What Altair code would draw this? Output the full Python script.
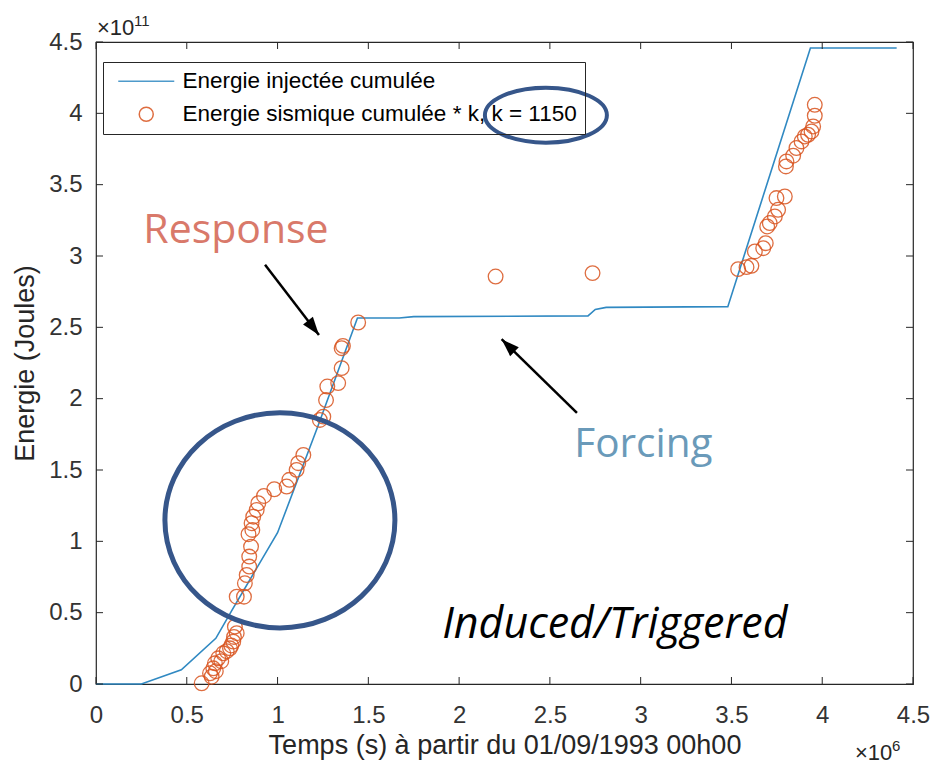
import altair as alt
import pandas as pd

# Units: time in 1e6 s, energy in 1e11 J
SERIES_INJ = "Energie injectée cumulée"
SERIES_SEIS = "Energie sismique cumulée * k, k = 1150"

# Cumulative injected energy
inj_t = [0.0, 0.25, 0.47, 0.66, 0.75, 1.00, 1.22, 1.44, 1.67, 1.75, 2.71, 2.75,
         2.81, 3.48, 3.935, 4.41]
inj_e = [0.0, 0.0, 0.10, 0.32, 0.52, 1.06, 1.80, 2.565, 2.565, 2.575, 2.58, 2.625,
         2.64, 2.645, 4.458, 4.458]

# Cumulative seismic energy multiplied by k
seis_t = [0.582, 0.628, 0.637, 0.646, 0.655, 0.66, 0.673, 0.69, 0.701, 0.72, 0.738,
          0.745, 0.756, 0.76, 0.775, 0.765, 0.775, 0.815, 0.820, 0.830, 0.844,
          0.844, 0.854, 0.84, 0.861, 0.857, 0.866, 0.885, 0.894, 0.925, 0.982,
          1.050, 1.065, 1.105, 1.114, 1.142, 1.233, 1.252, 1.267, 1.274, 1.334,
          1.353, 1.353, 1.36, 1.444,
          2.201, 2.735,
          3.537, 3.583, 3.610, 3.629, 3.675, 3.689, 3.697, 3.711, 3.739, 3.757,
          3.748, 3.794, 3.800, 3.803, 3.840, 3.858, 3.886, 3.904, 3.922, 3.941,
          3.950, 3.959, 3.959]
seis_e = [0.005, 0.075, 0.051, 0.110, 0.145, 0.09, 0.180, 0.16, 0.215, 0.23, 0.250,
          0.27, 0.297, 0.33, 0.356, 0.402, 0.612, 0.612, 0.706, 0.764, 0.823,
          0.893, 0.963, 1.05, 1.080, 1.127, 1.173, 1.220, 1.267, 1.318, 1.365,
          1.384, 1.431, 1.501, 1.548, 1.606, 1.851, 1.874, 1.990, 2.085, 2.109,
          2.214, 2.354, 2.37, 2.534,
          2.856, 2.880,
          2.908, 2.922, 2.931, 3.032, 3.055, 3.090, 3.207, 3.231, 3.277, 3.324,
          3.406, 3.417, 3.628, 3.663, 3.703, 3.757, 3.803, 3.838, 3.850, 3.873,
          3.908, 3.983, 4.060]

tick_vals = [0, 0.5, 1, 1.5, 2, 2.5, 3, 3.5, 4, 4.5]

# Annotations
note_t = [0.771, 3.015, 2.858]
note_e = [3.093, 1.592, 0.323]
note_txt = ["Response", "Forcing", "Induced/Triggered"]

arrow_t = [0.931, 2.649]
arrow_e = [2.938, 1.900]
arrow_t2 = [1.228, 2.234]
arrow_e2 = [2.447, 2.417]
arrow_ang = [142.4, 314.3]

ring_t = [1.013, 2.478]
ring_e = [1.147, 3.987]

W, H = 817, 642
LINE_COLOR = "#3089C2"
DOT_COLOR = "#D9541F"
RING_COLOR = "#36568A"
FONT = "Liberation Sans"

inj = pd.DataFrame({"t": inj_t, "e": inj_e, "serie": SERIES_INJ})
seis = pd.DataFrame({"t": seis_t, "e": seis_e, "serie": SERIES_SEIS})
ticks = pd.DataFrame({"v": tick_vals})
notes = pd.DataFrame({"t": note_t, "e": note_e, "txt": note_txt})
arrows = pd.DataFrame({"t": arrow_t, "e": arrow_e, "t2": arrow_t2, "e2": arrow_e2,
                       "ang": arrow_ang})
rings = pd.DataFrame({"t": ring_t, "e": ring_e})

xscale = alt.Scale(domain=[0, 4.5], nice=False, zero=False)
yscale = alt.Scale(domain=[0, 4.5], nice=False, zero=False)
xaxis = alt.Axis(values=tick_vals, format=".1~f", ticks=False, domain=False, grid=False,
                 labelFlush=False, labelPadding=19, titlePadding=5)
yaxis = alt.Axis(values=tick_vals, format=".1~f", ticks=False, domain=False, grid=False,
                 labelFlush=False, labelPadding=14, titlePadding=9)
XT = "Temps (s) à partir du 01/09/1993 00h00"
YT = "Energie (Joules)"


def X(field):
    return alt.X(f"{field}:Q", scale=xscale, axis=xaxis, title=XT)


def Y(field):
    return alt.Y(f"{field}:Q", scale=yscale, axis=yaxis, title=YT)


color = alt.Color("serie:N",
                  scale=alt.Scale(domain=[SERIES_INJ, SERIES_SEIS],
                                  range=[LINE_COLOR, DOT_COLOR]),
                  legend=alt.Legend(title=None, orient="none", legendX=7, legendY=20,
                                    strokeColor="#262626", padding=8,
                                    labelFontSize=22.5, labelFont=FONT,
                                    labelColor="#000000", labelLimit=0,
                                    labelExpr="datum.label + '\u00a0\u00a0\u00a0\u00a0\u00a0\u00a0\u00a0\u00a0'",
                                    symbolSize=196, symbolStrokeWidth=1.5,
                                    symbolOffset=24, labelOffset=25, rowPadding=10))
shape = alt.Shape("serie:N",
                  scale=alt.Scale(domain=[SERIES_INJ, SERIES_SEIS],
                                  range=["M-4,0L4,0", "circle"]))

line = alt.Chart(inj).mark_line(strokeWidth=1.6).encode(x=X("t"), y=Y("e"), color=color)
dots = alt.Chart(seis).mark_point(filled=False, size=215, strokeWidth=1.3, opacity=0.85).encode(
    x=X("t"), y=Y("e"), color=color, shape=shape)

# Inward tick marks on all four sides of the frame
tk_bottom = alt.Chart(ticks).mark_rule(color="#262626").encode(
    x=X("v"), y=alt.value(H), y2=alt.value(H - 7))
tk_top = alt.Chart(ticks).mark_rule(color="#262626").encode(
    x=X("v"), y=alt.value(0), y2=alt.value(7))
tk_left = alt.Chart(ticks).mark_rule(color="#262626").encode(
    y=Y("v"), x=alt.value(0), x2=alt.value(7))
tk_right = alt.Chart(ticks).mark_rule(color="#262626").encode(
    y=Y("v"), x=alt.value(W), x2=alt.value(W - 7))

# Exponent labels of the axes
exp_y = alt.Chart(pd.DataFrame({"s": ["×10"]})).mark_text(
    align="left", baseline="alphabetic", font=FONT, fontSize=22, color="#262626").encode(
    text="s:N", x=alt.value(1), y=alt.value(-7))
exp_y2 = alt.Chart(pd.DataFrame({"s": ["11"]})).mark_text(
    align="left", baseline="alphabetic", font=FONT, fontSize=15, color="#262626").encode(
    text="s:N", x=alt.value(38), y=alt.value(-16))
exp_x = alt.Chart(pd.DataFrame({"s": ["×10"]})).mark_text(
    align="left", baseline="alphabetic", font=FONT, fontSize=22, color="#262626").encode(
    text="s:N", x=alt.value(759), y=alt.value(718))
exp_x2 = alt.Chart(pd.DataFrame({"s": ["6"]})).mark_text(
    align="left", baseline="alphabetic", font=FONT, fontSize=15, color="#262626").encode(
    text="s:N", x=alt.value(796), y=alt.value(709))

# Highlight rings
ring_big = alt.Chart(rings.iloc[[0]]).mark_point(
    shape="M-1,0A1,0.935,0,1,1,1,0A1,0.935,0,1,1,-1,0Z", size=52900, filled=False,
    stroke=RING_COLOR, strokeWidth=5, opacity=1).encode(x=X("t"), y=Y("e"))
ring_small = alt.Chart(rings.iloc[[1]]).mark_point(
    shape="M-1,0A1,0.45,0,1,1,1,0A1,0.45,0,1,1,-1,0Z", size=14884, filled=False,
    stroke=RING_COLOR, strokeWidth=4, opacity=1).encode(x=X("t"), y=Y("e"))

# Arrows
arrow_line = alt.Chart(arrows).mark_rule(color="black", strokeWidth=2.5).encode(
    x=X("t"), y=Y("e"), x2="t2:Q", y2="e2:Q")
arrow_head = alt.Chart(arrows).mark_point(
    shape="M0,0L-0.55,1.6L0.55,1.6Z", size=506, filled=True, color="black",
    opacity=1).encode(x=X("t2"), y=Y("e2"), angle=alt.Angle("ang:Q", scale=None))

# Text annotations
txt_resp = alt.Chart(notes.iloc[[0]]).mark_text(
    font="Open Sans", fontSize=41, color="#D9796A", baseline="alphabetic").encode(
    x=X("t"), y=Y("e"), text="txt:N")
txt_forc = alt.Chart(notes.iloc[[1]]).mark_text(
    font="Open Sans", fontSize=40.5, color="#6A9AB9", baseline="alphabetic").encode(
    x=X("t"), y=Y("e"), text="txt:N")
txt_ind = alt.Chart(notes.iloc[[2]]).mark_text(
    font="Open Sans", fontSize=43, fontStyle="italic", color="black",
    baseline="alphabetic").encode(x=X("t"), y=Y("e"), text="txt:N")

chart = alt.layer(
    line, dots, tk_bottom, tk_top, tk_left, tk_right,
    ring_big, ring_small, arrow_line, arrow_head,
    txt_resp, txt_forc, txt_ind, exp_y, exp_y2, exp_x, exp_x2,
).properties(
    width=W, height=H,
    autosize=alt.AutoSizeParams(type="none"),
    padding={"left": 96, "top": 42, "right": 19, "bottom": 83},
    background="white",
).configure_view(
    stroke="#262626", strokeWidth=1.2
).configure_axis(
    labelFont=FONT, labelFontSize=24, labelColor="#333333",
    titleFont=FONT, titleFontSize=27, titleFontWeight="normal", titleColor="#262626",
)

chart.save("out.html", embed_options={"renderer": "svg", "actions": False})
